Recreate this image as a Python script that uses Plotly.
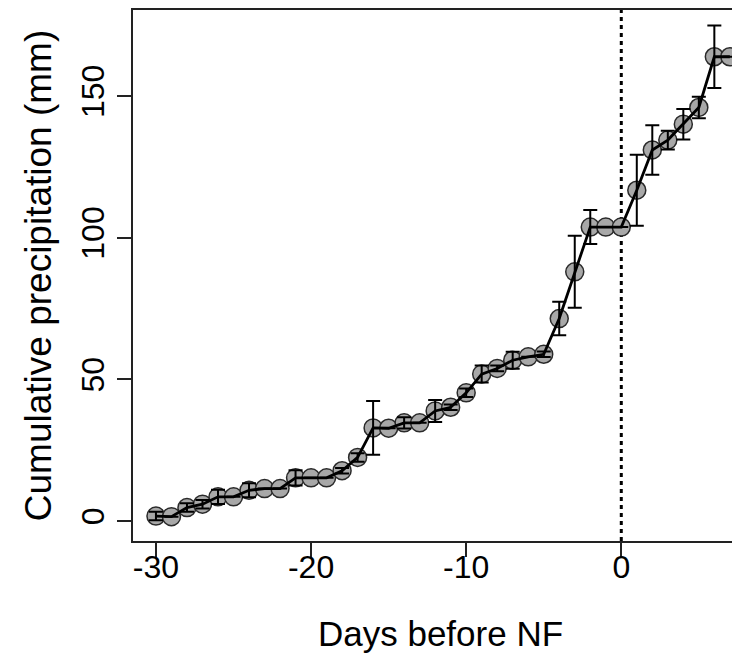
import plotly.graph_objects as go

days = list(range(-30, 8))
precip = [1.8, 1.6, 4.8, 6.0, 8.6, 8.6, 10.9, 11.5, 11.5, 15.3, 15.3, 15.3, 17.8, 22.5,
          32.9, 32.8, 34.7, 34.7, 38.9, 40.2, 45.3, 51.9, 53.9, 56.8, 58.0, 58.9,
          71.5, 88.0, 103.8, 103.8, 103.8, 116.8, 131.0, 134.5, 140.1, 146.0, 163.9, 163.9]
err = [1.5, 0.0, 1.5, 1.5, 2.5, 0.0, 2.5, 0.0, 0.0, 2.7, 0.0, 0.0, 1.0, 1.5,
       9.5, 0.0, 2.0, 0.0, 3.9, 1.0, 1.5, 3.0, 1.0, 3.0, 0.0, 1.0,
       5.9, 12.7, 6.0, 0.0, 0.0, 12.5, 8.7, 3.3, 5.4, 3.8, 11.0, 0.0]

xticks = [-30, -20, -10, 0]
yticks = [0, 50, 100, 150]

FONT = "Liberation Sans, Arial, sans-serif"

fig = go.Figure()
fig.add_trace(go.Scatter(
    x=days, y=precip, mode="markers",
    marker=dict(size=18, color="#a8a8a8", line=dict(color="#2a2a2a", width=1.5)),
    showlegend=False, hoverinfo="skip"))
fig.add_trace(go.Scatter(
    x=days, y=precip, mode="lines",
    line=dict(color="black", width=2.8),
    showlegend=False))
fig.add_trace(go.Scatter(
    x=days, y=precip, mode="markers",
    marker=dict(size=1, color="rgba(0,0,0,0)"),
    error_y=dict(type="data", array=err, visible=True, color="black",
                 thickness=2, width=7),
    showlegend=False, hoverinfo="skip"))

fig.add_shape(type="line", xref="x", yref="paper", x0=0, x1=0, y0=0, y1=1,
              line=dict(color="black", width=3, dash="4px,4px"), layer="below")

fig.update_layout(
    width=740, height=660,
    margin=dict(l=125, r=0, t=2, b=127),
    paper_bgcolor="white", plot_bgcolor="white",
    font=dict(family=FONT, color="black"),
    xaxis=dict(range=[-31.48, 8.17], tickvals=xticks, ticktext=[str(v) for v in xticks],
               showgrid=False, zeroline=False, showline=True, linecolor="#222",
               linewidth=2, mirror=True, ticks="outside", ticklen=14, tickwidth=2,
               tickcolor="#222", tickfont=dict(size=32), automargin=False,
               ticklabelstandoff=-17,
               title=dict(text="Days before NF", font=dict(size=35), standoff=37)),
    yaxis=dict(range=[-7.0, 180.4], tickvals=yticks, ticktext=[str(v) for v in yticks],
               showgrid=False, zeroline=False, showline=True, linecolor="#222",
               linewidth=2, mirror=False, ticks="outside", ticklen=14, tickwidth=2,
               tickcolor="#222", tickfont=dict(size=32), tickangle=-90, automargin=False,
               title=dict(text="Cumulative precipitation (mm)", font=dict(size=37), standoff=12)),
)

fig.write_html("out.html")
